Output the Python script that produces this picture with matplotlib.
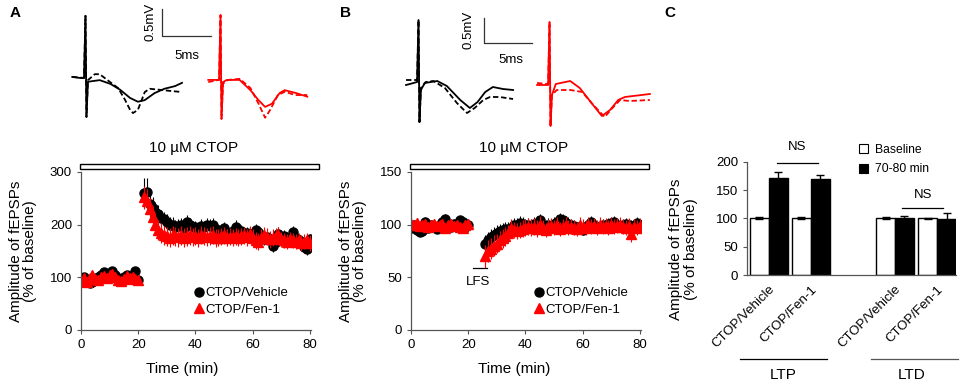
import matplotlib.pyplot as plt
from matplotlib.patches import Rectangle, Patch

plt.rcParams['font.family'] = ['Liberation Sans', 'DejaVu Sans']

# ---------------- data ----------------
# example traces (ms from stimulus, mV from baseline)
trA_veh_t = [-1.4, -0.6, -0.2, -0.05, 0.05, 0.2, 0.6, 1.4, 2.5, 3.5, 4.5, 5.3, 6.0, 7.0, 8.0, 9.1, 9.8]
trA_veh_v = [0.02, 0, 0, 1.15, -0.72, -0.07, -0.06, -0.04, -0.11, -0.22, -0.37, -0.44, -0.41, -0.28, -0.2, -0.15, -0.09]
trA_veh_t2 = [-1.4, -0.2, -0.05, 0.05, 0.2, 0.9, 1.4, 2.2, 3.3, 4.0, 4.5, 4.8, 5.3, 6.0, 6.5, 7.6, 8.6, 9.8]
trA_veh_v2 = [0.02, 0, 1.15, -0.72, -0.04, 0.07, 0.07, -0.04, -0.19, -0.41, -0.59, -0.65, -0.59, -0.26, -0.2, -0.22, -0.24, -0.26]
trA_fen_t = [-1.3, -0.2, -0.05, 0.05, 0.2, 0.6, 1.9, 3.0, 3.8, 4.5, 5.2, 6.0, 6.5, 7.6, 8.8]
trA_fen_v = [0, 0, 1.2, -0.72, -0.04, 0, 0, -0.19, -0.37, -0.5, -0.44, -0.24, -0.19, -0.24, -0.31]
trA_fen_t2 = [-1.3, -0.2, -0.05, 0.05, 0.2, 0.7, 1.9, 3.0, 3.8, 4.5, 5.0, 5.8, 6.5, 7.6, 8.8]
trA_fen_v2 = [-0.04, 0, 1.2, -0.72, -0.07, 0, 0.02, -0.15, -0.43, -0.7, -0.56, -0.28, -0.22, -0.28, -0.28]

trB_veh_t = [-1.35, -0.95, -0.2, -0.05, 0.05, 0.2, 0.6, 1.9, 2.9, 4.3, 5.3, 6.1, 6.9, 7.7, 8.75, 9.8]
trB_veh_v = [-0.06, -0.04, 0, 1.24, -0.8, -0.16, -0.02, 0.02, -0.08, -0.36, -0.52, -0.4, -0.2, -0.1, -0.14, -0.16]
trB_veh_t2 = [-1.35, -0.2, -0.05, 0.05, 0.2, 0.7, 1.5, 2.7, 3.95, 5.0, 5.8, 6.7, 7.4, 8.4, 9.8]
trB_veh_v2 = [0.04, 0.04, 1.24, -0.8, -0.12, 0, 0.02, -0.12, -0.42, -0.62, -0.52, -0.36, -0.3, -0.3, -0.34]
trB_fen_t = [-1.35, -0.2, -0.05, 0.05, 0.2, 0.6, 2.1, 3.1, 4.4, 5.4, 6.25, 7.1, 7.8, 10.4]
trB_fen_v = [0, 0, 1.26, -0.82, -0.2, 0.02, 0.08, -0.06, -0.38, -0.62, -0.5, -0.3, -0.24, -0.18]
trB_fen_t2 = [-1.35, -0.2, -0.05, 0.05, 0.2, 0.7, 2.1, 3.35, 4.6, 5.7, 6.5, 7.3, 8.3, 10.4]
trB_fen_v2 = [0.04, 0.02, 1.26, -0.82, -0.2, -0.1, -0.1, -0.14, -0.42, -0.64, -0.46, -0.3, -0.32, -0.3]

# time course A (LTP)
tA = list(range(0, 21)) + list(range(22, 81))
A_veh = [97, 100, 95, 90, 92, 96, 100, 104, 110, 103, 100, 112, 104, 98, 96, 101, 104, 96, 100, 112, 95,
         260, 262, 240, 232, 225, 220, 212, 210, 205, 200, 200, 195, 198, 200, 193, 205, 200, 195, 195,
         190, 198, 195, 200, 198, 200, 192, 185, 188, 193, 185, 183, 188, 196, 190, 188, 184, 185, 182,
         180, 190, 187, 180, 172, 177, 172, 160, 167, 183, 175, 178, 175, 175, 186, 175, 170, 168, 158, 153, 172]
A_veh_err = [5, 5, 6, 5, 5, 6, 5, 6, 6, 5, 6, 6, 5, 5, 6, 5, 6, 5, 6, 7, 5,
             28, 26, 22, 20, 18, 17, 16, 15, 15, 14, 14, 13, 13, 13, 12, 13, 12, 12, 12,
             12, 12, 12, 12, 12, 12, 12, 11, 11, 12, 11, 11, 11, 12, 11, 11, 11, 11, 11,
             11, 12, 11, 11, 11, 11, 11, 11, 11, 12, 11, 11, 11, 11, 12, 11, 11, 11, 11, 11, 11]
A_fen = [93, 98, 92, 99, 104, 97, 94, 100, 103, 98, 104, 106, 100, 95, 93, 97, 103, 98, 100, 97, 94,
         252, 245, 230, 215, 200, 190, 185, 180, 178, 175, 180, 178, 176, 180, 175, 178, 180, 176, 178,
         175, 180, 178, 176, 178, 180, 175, 175, 178, 180, 175, 177, 176, 178, 175, 178, 180, 176, 182,
         175, 170, 168, 175, 180, 177, 172, 175, 178, 180, 172, 170, 168, 172, 170, 168, 170, 165, 168, 170, 165]
A_fen_err = [6, 6, 6, 6, 7, 6, 6, 6, 7, 6, 7, 7, 6, 6, 6, 6, 7, 6, 6, 6, 6,
             22, 22, 20, 20, 20, 19, 19, 18, 18, 18, 18, 18, 18, 18, 18, 18, 18, 17, 17,
             17, 17, 17, 17, 17, 17, 17, 16, 16, 16, 16, 16, 16, 16, 16, 16, 16, 16, 16,
             16, 16, 16, 16, 16, 16, 16, 16, 16, 16, 15, 15, 15, 15, 15, 15, 15, 15, 15, 15, 15]

# time course B (LTD)
tB = list(range(0, 21)) + list(range(26, 81))
B_veh = [97, 100, 95, 93, 94, 103, 97, 100, 99, 96, 100, 103, 105, 100, 98, 101, 99, 104, 103, 98, 100,
         82, 85, 88, 90, 92, 94, 95, 96, 96, 97, 100, 100, 102, 101, 99, 100, 99, 101, 102, 104, 100,
         98, 100, 99, 101, 103, 105, 104, 102, 101, 100, 99, 98, 96, 95, 97, 100, 103, 100, 98, 97,
         100, 99, 101, 102, 103, 100, 99, 100, 101, 100, 99, 98, 102, 100]
B_veh_err = [4, 4, 4, 4, 4, 4, 4, 4, 4, 4, 4, 5, 5, 4, 4, 4, 4, 4, 4, 4, 4,
             8, 8, 8, 8, 8, 7, 7, 7, 7, 7, 6, 6, 6, 6, 6, 6, 6, 6, 6, 6, 6,
             6, 6, 6, 6, 6, 6, 6, 6, 6, 5, 5, 5, 5, 5, 5, 5, 5, 5, 5, 5,
             5, 5, 5, 5, 5, 5, 5, 5, 5, 5, 5, 5, 5, 5]
B_fen = [101, 100, 102, 99, 100, 101, 98, 100, 101, 99, 100, 101, 97, 100, 101, 99, 100, 98, 97, 100, 101,
         70, 75, 77, 80, 82, 85, 87, 89, 92, 97, 95, 94, 95, 96, 97, 98, 97, 98, 96, 100,
         97, 95, 98, 99, 97, 100, 96, 98, 100, 97, 98, 97, 96, 100, 98, 97, 100, 98, 99, 97,
         100, 98, 99, 97, 100, 98, 99, 100, 98, 97, 99, 91, 98, 97, 99]
B_fen_err = [4, 4, 4, 4, 4, 4, 4, 4, 4, 4, 4, 4, 4, 4, 4, 4, 4, 4, 4, 4, 4,
             11, 10, 10, 10, 9, 9, 9, 9, 8, 8, 8, 8, 8, 8, 8, 8, 8, 8, 8, 8,
             7, 7, 7, 7, 7, 7, 7, 7, 7, 7, 7, 7, 7, 7, 7, 7, 7, 7, 7, 7,
             7, 7, 7, 7, 7, 7, 7, 7, 7, 7, 7, 7, 7, 7, 7]

# bar chart C
c_labels = ['CTOP/Vehicle', 'CTOP/Fen-1', 'CTOP/Vehicle', 'CTOP/Fen-1']
c_pos = [0, 1, 3, 4]
c_base = [100, 101, 100, 100]
c_base_err = [2, 2, 2, 1]
c_late = [172, 170, 100, 98]
c_late_err = [10, 7, 5, 11]

# ---------------- figure ----------------
fig = plt.figure(figsize=(9.64, 3.9), dpi=100)


def px_axes(x0, y0, x1, y1):
    return fig.add_axes([x0 / 964, 1 - y1 / 390, (x1 - x0) / 964, (y1 - y0) / 390])


def style(ax):
    for s in ['top', 'right']:
        ax.spines[s].set_visible(False)
    for s in ['left', 'bottom']:
        ax.spines[s].set_color('#555555')
        ax.spines[s].set_linewidth(0.9)
    ax.tick_params(labelsize=9.5, length=3, width=0.8, color='#555555')


def traces(ax, tv, vv, tv2, vv2, x0, y0, color):
    ax.plot([t + x0 for t in tv], [v + y0 for v in vv], color=color, lw=1.3)
    ax.plot([t + x0 for t in tv2], [v + y0 for v in vv2], color=color, lw=1.3, ls=(0, (3, 1.5)))


# traces A
axtA = px_axes(60, 0, 330, 135)
axtA.set_xlim(0, 270 / 9.8)
axtA.set_ylim(0, 135 / 54)
axtA.axis('off')
traces(axtA, trA_veh_t, trA_veh_v, trA_veh_t2, trA_veh_v2, 2.65, 1.056, 'black')
traces(axtA, trA_fen_t, trA_fen_v, trA_fen_t2, trA_fen_v2, 16.43, 1.02, 'red')
axtA.plot([10.41, 10.41, 15.41], [2.333, 1.833, 1.833], color='#333333', lw=0.9)
axtA.text(9.2, 2.1, '0.5mV', rotation=90, ha='center', va='center', fontsize=9.5)
axtA.text(12.9, 1.47, '5ms', ha='center', va='center', fontsize=9.5)

# traces B
axtB = px_axes(390, 0, 660, 135)
axtB.set_xlim(0, 270 / 9.6)
axtB.set_ylim(0, 135 / 50)
axtB.axis('off')
traces(axtB, trB_veh_t, trB_veh_v, trB_veh_t2, trB_veh_v2, 3.02, 1.06, 'black')
traces(axtB, trB_fen_t, trB_fen_v, trB_fen_t2, trB_fen_v2, 16.67, 1.0, 'red')
axtB.plot([9.79, 9.79, 14.79], [2.34, 1.84, 1.84], color='#333333', lw=0.9)
axtB.text(8.2, 2.1, '0.5mV', rotation=90, ha='center', va='center', fontsize=9.5)
axtB.text(12.6, 1.5, '5ms', ha='center', va='center', fontsize=9.5)


def time_panel(ax, t, veh, veh_err, fen, fen_err, ymax, step, text_x, leg_x):
    style(ax)
    ax.errorbar(t, veh, yerr=veh_err, fmt='none', ecolor='black', elinewidth=0.8)
    ax.plot(t, veh, 'o', color='black', ms=6.5, label='CTOP/Vehicle')
    ax.errorbar(t, fen, yerr=fen_err, fmt='none', ecolor='red', elinewidth=0.8)
    ax.plot(t, fen, '^', color='red', ms=6.5, label='CTOP/Fen-1')
    ax.set_xlim(0, 80.5)
    ax.set_ylim(0, ymax)
    ax.set_xticks([0, 20, 40, 60, 80])
    ax.set_yticks(range(0, ymax + 1, step))
    ax.set_xlabel('Time (min)', fontsize=11)
    ax.xaxis.set_label_coords(text_x, -0.2)
    ax.set_ylabel('Amplitude of fEPSPs\n(% of baseline)', fontsize=11, linespacing=1.05)
    ax.yaxis.set_label_coords(-0.19, 0.5)
    ax.add_patch(Rectangle((-0.004, 1.019), 1.035, 0.032, transform=ax.transAxes,
                           facecolor='white', edgecolor='black', lw=1, clip_on=False))
    ax.text(0.49, 1.15, '10 µM CTOP', transform=ax.transAxes, ha='center', va='center', fontsize=11)
    ax.legend(loc='center left', bbox_to_anchor=(leg_x, 0.18), frameon=False, fontsize=9.5,
              handlelength=0.7, handletextpad=0.15, borderpad=0, labelspacing=0.35,
              borderaxespad=0, numpoints=1)


axA = px_axes(81, 172, 311.4, 330)
time_panel(axA, tA, A_veh, A_veh_err, A_fen, A_fen_err, 300, 100, 0.44, 0.49)

axB = px_axes(411, 172, 641.4, 330)
time_panel(axB, tB, B_veh, B_veh_err, B_fen, B_fen_err, 150, 50, 0.45, 0.535)
axB.plot([21.7, 26.5], [59, 59], color='black', lw=0.9, clip_on=False)
axB.text(23.6, 45.5, 'LFS', ha='center', va='center', fontsize=9.5)

# bar chart C
axC = px_axes(747, 161.7, 956, 275)
style(axC)
w = 0.45
axC.bar([p - w / 2 for p in c_pos], c_base, width=w, color='white', edgecolor='black', lw=1,
        yerr=c_base_err, error_kw=dict(ecolor='black', elinewidth=1, capsize=3, capthick=1))
axC.bar([p + w / 2 for p in c_pos], c_late, width=w, color='black', edgecolor='black', lw=1,
        yerr=c_late_err, error_kw=dict(ecolor='black', elinewidth=1, capsize=3, capthick=1))
axC.set_xlim(-0.52, 4.45)
axC.set_ylim(0, 200)
axC.set_yticks([0, 50, 100, 150, 200])
axC.set_xticks(c_pos)
axC.set_xticklabels(c_labels, rotation=45, ha='right', rotation_mode='anchor', fontsize=9.5)
axC.tick_params(axis='x', length=0, pad=6)
axC.set_ylabel('Amplitude of fEPSPs\n(% of baseline)', fontsize=11, linespacing=1.05)
axC.yaxis.set_label_coords(-0.235, 0.23)

axC.plot([0.19, 1.17], [198, 198], color='black', lw=0.9, clip_on=False)
axC.text(0.68, 226, 'NS', ha='center', va='center', fontsize=9.5)
axC.plot([3.17, 4.14], [118, 118], color='black', lw=0.9, clip_on=False)
axC.text(3.66, 141, 'NS', ha='center', va='center', fontsize=9.5)

tr = axC.get_xaxis_transform()
axC.plot([-0.69, 1.38], [-0.74, -0.74], color='black', lw=0.9, transform=tr, clip_on=False)
axC.text(0.33, -0.88, 'LTP', transform=tr, ha='center', va='center', fontsize=11)
axC.plot([2.43, 4.5], [-0.74, -0.74], color='#555555', lw=0.9, transform=tr, clip_on=False)
axC.text(3.4, -0.88, 'LTD', transform=tr, ha='center', va='center', fontsize=11)

leg_handles = [Patch(facecolor='white', edgecolor='black', lw=0.8),
               Patch(facecolor='black', edgecolor='black', lw=0.8)]
fig.legend(leg_handles, ['Baseline', '70-80 min'], loc='upper left',
           bbox_to_anchor=(853 / 964, 1 - 138 / 390), frameon=False, fontsize=8.7,
           handlelength=0.75, handleheight=0.75, handletextpad=0.6, labelspacing=0.6, borderpad=0)

# panel letters
fig.text(10 / 964, 1 - 13 / 390, 'A', fontsize=11, fontweight='bold', va='center')
fig.text(340 / 964, 1 - 13 / 390, 'B', fontsize=11, fontweight='bold', va='center')
fig.text(664 / 964, 1 - 13 / 390, 'C', fontsize=11, fontweight='bold', va='center')

fig.savefig('out.png', dpi=100)
